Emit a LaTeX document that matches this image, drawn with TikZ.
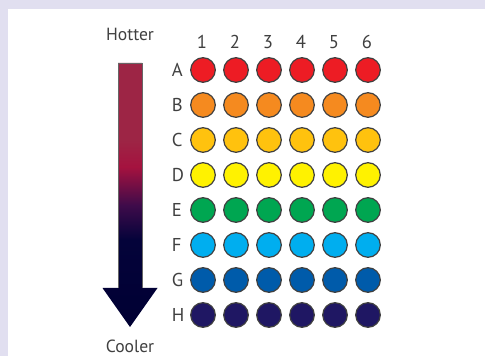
\documentclass[tikz,border=0pt]{standalone}
\usepackage{fontspec}
\setmainfont{PT Sans}
\usetikzlibrary{positioning}
\definecolor{FrameLilac}{HTML}{E1DFF0}
\definecolor{Ink}{HTML}{404040}
\definecolor{RimGrey}{HTML}{404040}
\definecolor{WellRed}{HTML}{ED1C24}
\definecolor{WellOrange}{HTML}{F58A1F}
\definecolor{WellAmber}{HTML}{FFC20E}
\definecolor{WellYellow}{HTML}{FFF200}
\definecolor{WellGreen}{HTML}{00A651}
\definecolor{WellCyan}{HTML}{00AEEF}
\definecolor{WellBlue}{HTML}{005BAA}
\definecolor{WellNavy}{HTML}{1F1763}
\definecolor{HotMaroon}{HTML}{9D2545}
\definecolor{HotCrimson}{HTML}{A5123F}
\definecolor{CoolPlum}{HTML}{3E0B4A}
\definecolor{CoolDeep}{HTML}{04033A}
\definecolor{CoolNavy}{HTML}{000033}
\pgfdeclareverticalshading{heatFade}{100bp}{color(0bp)=(CoolNavy); color(25bp)=(CoolNavy);
  color(41.5bp)=(CoolDeep); color(48bp)=(CoolPlum); color(55.3bp)=(HotCrimson);
  color(60.4bp)=(HotMaroon); color(75bp)=(HotMaroon); color(100bp)=(HotMaroon)}

\begin{document}
\begin{tikzpicture}[x=0.5pt,y=-0.5pt]
  \path[use as bounding box,fill=FrameLilac] (0,0) rectangle (485,356);
  \fill[white] (8,9) rectangle (485,356);
  \tikzset{
    plWell/.style={
      circle, draw=RimGrey, line width=.6pt, inner sep=0pt,
      minimum size=12.3pt
    },
    plTag/.style={
      inner sep=0pt, text=Ink, font=\fontsize{9.3}{11}\selectfont
    },
    plEnd/.style={plTag, font=\fontsize{8.8}{10}\selectfont}
  }

  % temperature arrow, hot at the top
  \shade[shading=heatFade] (118,63) -- (142,63) -- (142,288) -- (157.5,288)
    -- (130,327) -- (102.5,288) -- (118,288) -- cycle;
  \draw[RimGrey!80,line width=.4pt] (118,288) -- (118,63) -- (142,63) -- (142,288);
  \node[plEnd,anchor=base] (hotter) at (130,40.7) {Hotter};
  \node[plEnd,anchor=base] (cooler) at (130,352) {Cooler};

  % plate of wells
  \foreach \col in {1,...,6}
    \node[plTag,anchor=base] (colnum\col) at ({203+33*(\col-1)-1},49) {\col};
  \foreach \row/\tint [count=\r] in {A/WellRed,B/WellOrange,C/WellAmber,D/WellYellow,
      E/WellGreen,F/WellCyan,G/WellBlue,H/WellNavy} {
    \node[plTag,anchor=base west] (rowlet\row) at (171.5,{70+35*(\r-1)+6.7}) {\row};
    \foreach \col in {1,...,6}
      \node[plWell,fill=\tint] (well\row\col) at ({203+33*(\col-1)},{70+35*(\r-1)}) {};
  }
\end{tikzpicture}
\end{document}
